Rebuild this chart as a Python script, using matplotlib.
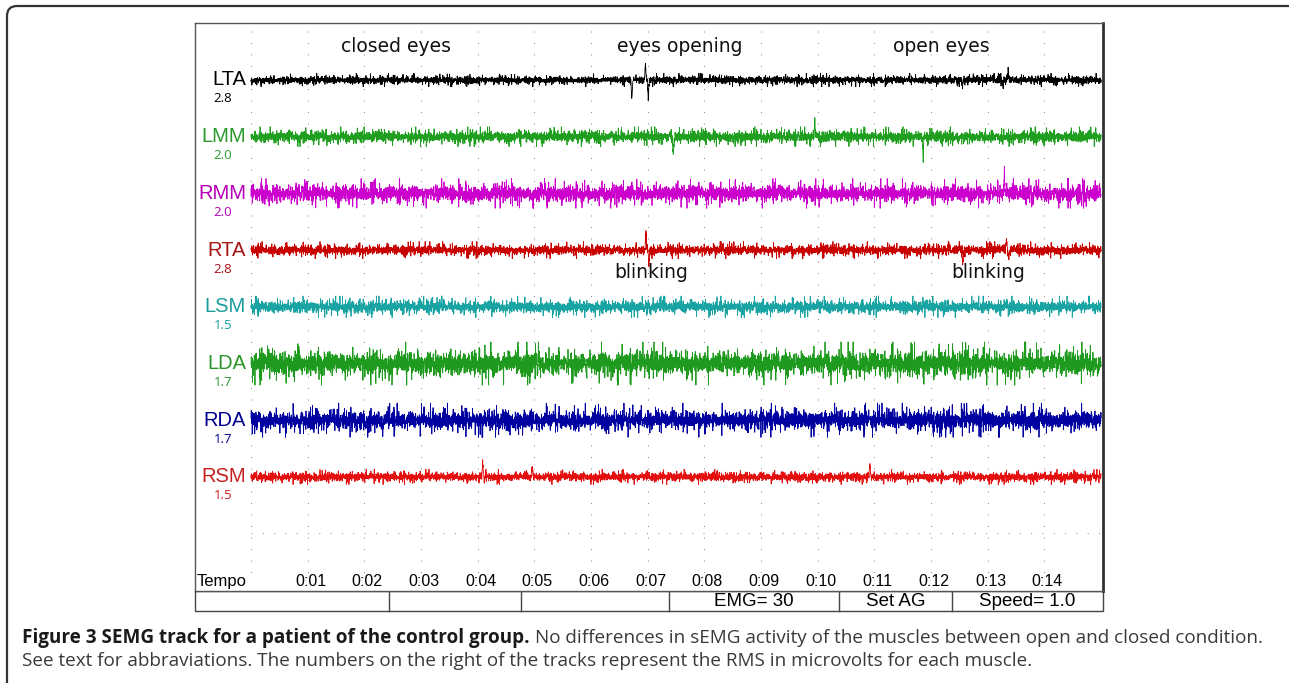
import numpy as np
import matplotlib
matplotlib.use("Agg")
import matplotlib.pyplot as plt
from matplotlib import font_manager
from matplotlib.patches import FancyBboxPatch, Rectangle

# --- values ---
tracks = ['LTA', 'LMM', 'RMM', 'RTA', 'LSM', 'LDA', 'RDA', 'RSM']
rms_uv = ['2.8', '2.0', '2.0', '2.8', '1.5', '1.7', '1.7', '1.5']
# typical half amplitude of each raw trace (screen px at the recorder scale)
amplitude = [1.5, 2.2, 3.3, 1.9, 2.4, 4.8, 3.8, 1.7]
# artefacts visible on the traces: (track, time in s, deflection px, up = +)
events = [
    ('LTA', 6.72, -18), ('LTA', 6.96, 15), ('LTA', 7.01, -17),
    ('LTA', 12.55, -6), ('LTA', 13.27, -6), ('LTA', 13.36, 7),
    ('LMM', 7.45, -16), ('LMM', 9.95, 11), ('LMM', 11.86, -17),
    ('RMM', 13.29, 19),
    ('RTA', 6.97, 12), ('RTA', 7.02, -12), ('RTA', 12.50, 8),
    ('RTA', 12.56, -12), ('RTA', 13.33, 11), ('RTA', 13.37, -8),
    ('RSM', 4.09, 13), ('RSM', 4.96, 11), ('RSM', 10.92, 13),
]
phases = ['closed eyes', 'eyes opening', 'open eyes']
phase_t = [2.56, 7.57, 12.19]
blink_t = [7.06, 13.01]
tick_sec = [1, 2, 3, 4, 5, 6, 7, 8, 9, 10, 11, 12, 13, 14]
tick_labels = ['0:01', '0:02', '0:03', '0:04', '0:05', '0:06', '0:07',
               '0:08', '0:09', '0:10', '0:11', '0:12', '0:13', '0:14']
footer_cells = ['', '', '', 'EMG= 30', 'Set AG', 'Speed= 1.0']
duration = 15.0

trace_colors = ['#000000', '#1f9e1f', '#cc00cc', '#c80000',
                '#1aa3a3', '#1e9a1e', '#0000a0', '#e41010']
label_colors = ['#000000', '#2a9a2a', '#b800b8', '#a81414',
                '#1a9c9c', '#2a952a', '#000090', '#c82020']


def pick_font(names):
    for n in names:
        try:
            font_manager.findfont(n, fallback_to_default=False)
            return n
        except Exception:
            continue
    return 'DejaVu Sans'


narrow = pick_font(['Liberation Sans Narrow', 'Open Sans'])
arial = 'Liberation Sans'

W, H = 1289, 683
fig = plt.figure(figsize=(W / 100, H / 100), dpi=100)

# overlay in pixel units for frame, footer table and caption
fx = fig.add_axes([0, 0, 1, 1])
fx.set_xlim(0, W)
fx.set_ylim(H, 0)
fx.axis('off')
fx.add_patch(FancyBboxPatch((7, 6), 1300, 700, boxstyle='round,pad=0,rounding_size=10',
                            fill=False, ec='#333333', lw=1.6))

# trace area: x in seconds, y in screen rows
x0, x1, y0, y1 = 195, 1103, 23, 591
px_per_s = 56.67
t_left = (x0 - 251) / px_per_s
t_right = (x1 - 251) / px_per_s
ax = fig.add_axes([x0 / W, 1 - y1 / H, (x1 - x0) / W, (y1 - y0) / H])
ax.set_xlim(t_left, t_right)
ax.set_ylim(y1, y0)
ax.set_xticks([])
ax.set_yticks([])
for s in ax.spines.values():
    s.set_color('#555555')
    s.set_linewidth(1.0)
ax.spines['right'].set_linewidth(2.0)
ax.spines['right'].set_color('#333333')

# dotted grid
for k in range(15):
    ax.plot([k, k], [31, 576], color='#888888', lw=0.72,
            linestyle=(0, (1, 10.5)))
ax.plot([0, duration], [533, 533], color='#888888', lw=0.72,
        linestyle=(0, (1, 10.3)))

# raw samples are not readable at this scale: a fixed-seed carrier stands in
# for them, scaled by the amplitudes read above
n = 6000
t = np.linspace(0, duration, n)
rng = np.random.default_rng(7)
baselines = [80 + 56.7 * i for i in range(len(tracks))]
for i, name in enumerate(tracks):
    carrier = np.clip(rng.standard_t(5, n), -4.5, 4.5)
    sig = amplitude[i] * carrier
    for tr, te, d in events:
        if tr == name:
            sig += d * np.exp(-((t - te) / 0.012) ** 2)
    ax.plot(t, baselines[i] - sig, color=trace_colors[i], lw=0.6)
    ax.text(-0.088, baselines[i], name, ha='right', va='center',
            fontsize=14.5, family=arial, color=label_colors[i])
    ax.text(-0.494, baselines[i] + 19, rms_uv[i], ha='center', va='center',
            fontsize=9.5, family=narrow, color=label_colors[i])

for lab, tc in zip(phases, phase_t):
    ax.text(tc, 47, lab, ha='center', va='center', fontsize=13.5,
            family='DejaVu Sans', color='#111111')
for tc in blink_t:
    ax.text(tc, 273, 'blinking', ha='center', va='center', fontsize=13.5,
            family='DejaVu Sans', color='#111111')

# time axis labels inside the box
ax.text(t_left + 0.03, 582, 'Tempo', ha='left', va='center',
        fontsize=12, family=arial)
for sec, lab in zip(tick_sec, tick_labels):
    ax.text(sec + 0.05, 582, lab, ha='center', va='center',
            fontsize=11.5, family=arial)

# footer table
edges = [195, 389, 521, 669, 839, 952, 1103]
fx.add_patch(Rectangle((195, 591), 908, 20, fill=False, ec='#444444', lw=1.0))
for e in edges[1:-1]:
    fx.plot([e, e], [591, 611], color='#444444', lw=1.0)
for i, lab in enumerate(footer_cells):
    if lab:
        fx.text((edges[i] + edges[i + 1]) / 2, 601.5, lab, ha='center',
                va='center', fontsize=13.5, family=arial)

# caption
bold = fx.text(22, 638, 'Figure 3 SEMG track for a patient of the control group.',
               ha='left', va='center', fontsize=13.6, family=narrow,
               weight='bold', color='#1a1a1a')
fig.canvas.draw()
bb = bold.get_window_extent().transformed(fx.transData.inverted())
fx.text(bb.x1 + 5, 638, 'No differences in sEMG activity of the muscles '
        'between open and closed condition.', ha='left', va='center',
        fontsize=13.6, family=narrow, color='#3a3a3a')
fx.text(22, 661, 'See text for abbraviations. The numbers on the right of the '
        'tracks represent the RMS in microvolts for each muscle.',
        ha='left', va='center', fontsize=13.6, family=narrow, color='#3a3a3a')

fig.savefig('out.png', dpi=100)
